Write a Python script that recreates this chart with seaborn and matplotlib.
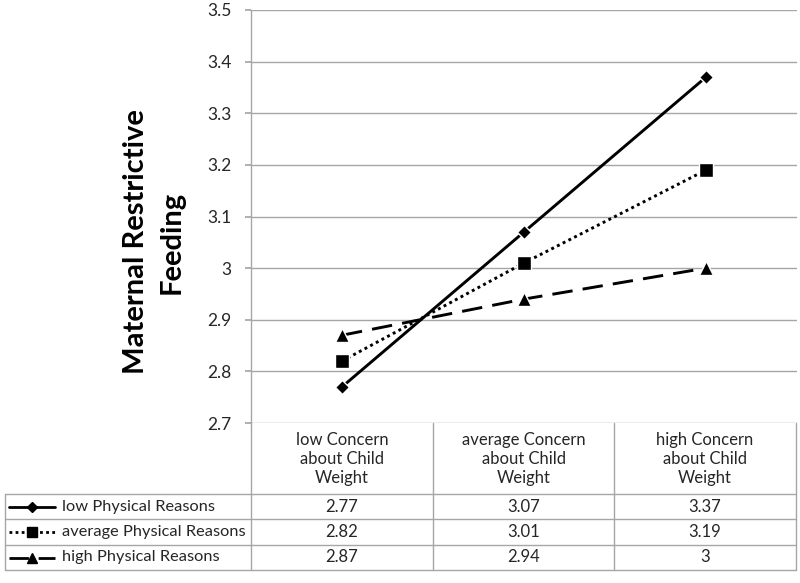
import seaborn as sns
import pandas as pd
import numpy as np
import matplotlib.pyplot as plt

# datos
categorias = ['low Concern\nabout Child\nWeight',
              'average Concern\nabout Child\nWeight',
              'high Concern\nabout Child\nWeight']
series = ['low Physical Reasons', 'average Physical Reasons', 'high Physical Reasons']
bajo = [2.77, 3.07, 3.37]
medio = [2.82, 3.01, 3.19]
alto = [2.87, 2.94, 3]
etiquetas_y = ['2.7', '2.8', '2.9', '3', '3.1', '3.2', '3.3', '3.4', '3.5']

valores = [bajo, medio, alto]
df = pd.DataFrame({
    'pos': list(range(len(categorias))) * len(series),
    'valor': bajo + medio + alto,
    'serie': np.repeat(series, len(categorias)),
})

sns.set_theme(style='white')
plt.rcParams['font.family'] = ['Lato', 'DejaVu Sans']

estilos = {
    series[0]: dict(marker='D', markersize=7, linestyle='-'),
    series[1]: dict(marker='s', markersize=9.5, linestyle=(0, (1, 1.2))),
    series[2]: dict(marker='^', markersize=10, linestyle=(0, (7, 3.5))),
}

W, H = 800, 583
fig = plt.figure(figsize=(8, 5.83), dpi=100)
gris = '#a6a6a6'
texto = '#262626'

ax = fig.add_axes([251 / W, 1 - 423 / H, (797 - 251) / W, (423 - 10) / H])
for s in series:
    sns.lineplot(data=df[df['serie'] == s], x='pos', y='valor', ax=ax,
                 color='black', lw=2.1, markeredgewidth=1, **estilos[s])

ax.set_xlim(-0.5, 2.5)
ax.set_ylim(2.7, 3.5)
ax.set_yticks([float(t) for t in etiquetas_y])
ax.set_yticklabels(etiquetas_y, fontsize=12.5, color=texto)
ax.set_xticks([])
ax.set_xlabel('')
ax.set_ylabel('')
ax.yaxis.grid(True, color=gris, lw=1)
ax.tick_params(axis='y', length=4, color=gris, pad=10, left=True)
for lado in ['top', 'right', 'bottom']:
    ax.spines[lado].set_visible(False)
ax.spines['left'].set_color(gris)
ax.spines['left'].set_linewidth(1)

fig.text(154 / W, 1 - 242 / H, 'Maternal Restrictive\nFeeding', rotation=90,
         ha='center', va='center', fontsize=21, fontweight='bold',
         color='black', linespacing=1.45, multialignment='center')

# tabla de datos
tab = fig.add_axes([0, 0, 1, 1])
tab.set_xlim(0, W)
tab.set_ylim(H, 0)
tab.axis('off')
tab.patch.set_alpha(0)

bordes_x = [251, 433, 614, 796]
filas_y = [494, 519, 545, 570]
for x in bordes_x:
    tab.plot([x, x], [423, 570], color=gris, lw=1)
tab.plot([5, 5], [494, 570], color=gris, lw=1)
for y in filas_y:
    tab.plot([5, 796], [y, y], color=gris, lw=1)

centros = [(bordes_x[i] + bordes_x[i + 1]) / 2 for i in range(3)]
for c, cat in zip(centros, categorias):
    tab.text(c, 459, cat, ha='center', va='center', fontsize=12,
             color=texto, linespacing=1.25)

for i, (s, vals) in enumerate(zip(series, valores)):
    yc = (filas_y[i] + filas_y[i + 1]) / 2
    tab.plot([9, 55], [yc, yc], color='black', lw=2,
             linestyle=estilos[s]['linestyle'])
    tab.plot([32], [yc], color='black', marker=estilos[s]['marker'],
             markersize=estilos[s]['markersize'] * 0.75)
    tab.text(62, yc, s, ha='left', va='center', fontsize=11.8, color=texto)
    for c, v in zip(centros, vals):
        tab.text(c, yc, f'{v:g}', ha='center', va='center', fontsize=12,
                 color=texto)

fig.savefig('out.png', dpi=100)
